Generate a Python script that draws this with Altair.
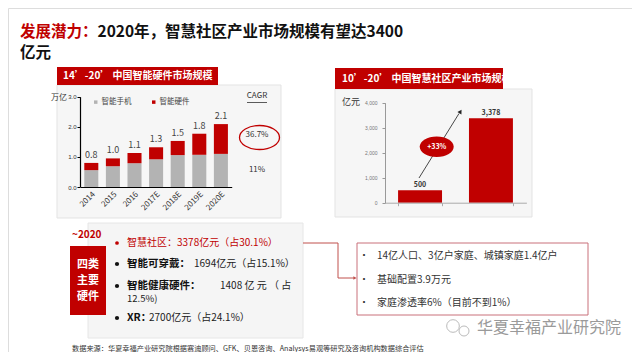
import altair as alt
import pandas as pd

FONT = "Noto Sans CJK SC"
RED = "#c00000"
GRAY = "#b3b3b3"
O = 8  # page margin offset (image coords -> chart coords)

# ---------------- data ----------------
years = ["2014", "2015", "2016", "2017E", "2018E", "2019E", "2020E"]
phone = [0.56, 0.69, 0.79, 0.92, 1.06, 1.07, 1.10]
hardware = [0.24, 0.26, 0.34, 0.40, 0.47, 0.70, 0.99]
total_labels = ["0.8", "1.0", "1.1", "1.3", "1.5", "1.8", "2.1"]
series_names = ["智能手机", "智能硬件"]

comm_years = ["2010", "2020"]
comm_values = [500, 3378]

left_y_ticks = [0, 1, 2, 3]
right_y_ticks = [0, 1000, 2000, 3000, 4000]

title_red = "发展潜力："
title_black = "2020年，智慧社区产业市场规模有望达3400"
title_line2 = "亿元"
left_header = "14’-20’ 中国智能硬件市场规模"
right_header = "10’-20’ 中国智慧社区产业市场规模"
side_label = ["四类", "主要", "硬件"]
bullets_left = [
    ("智慧社区：3378亿元（占30.1%）", ""),
    ("智能可穿戴：", "1694亿元（占15.1%）"),
    ("智能健康硬件：", "1408 亿 元 （ 占"),
    ("XR：", "2700亿元（占24.1%）"),
]
bullets_right = ["14亿人口、3亿户家庭、城镇家庭1.4亿户", "基础配置3.9万元", "家庭渗透率6%（目前不到1%）"]
source_text = "数据来源：华夏幸福产业研究院根据赛迪顾问、GFK、贝恩咨询、Analysys易观等研究及咨询机构数据综合评估"
watermark = "华夏幸福产业研究院"

# ---------------- tables ----------------
rows = []
for i, y in enumerate(years):
    rows.append({"year": y, "series": series_names[0], "value": phone[i], "ord": 0})
    rows.append({"year": y, "series": series_names[1], "value": hardware[i], "ord": 1})
df_left = pd.DataFrame(rows)
df_tot = pd.DataFrame({"year": years,
                       "total": [p + h for p, h in zip(phone, hardware)],
                       "label": total_labels})
df_right = pd.DataFrame({"year": comm_years, "value": comm_values})

D = alt.InlineData(values=[{"k": 0}])


def box(x1, y1, x2, y2, fill, stroke=None, sw=1.0):
    kw = dict(fill=fill)
    if stroke:
        kw.update(stroke=stroke, strokeWidth=sw)
    else:
        kw.update(strokeWidth=0)
    return alt.Chart(D).mark_rect(**kw).encode(
        x=alt.value(x1 - O), x2=alt.value(x2 - O),
        y=alt.value(y1 - O), y2=alt.value(y2 - O))


def label(s, x, y, size, color="#222", weight="normal", align="left", **extra):
    return alt.Chart(D).mark_text(
        text=s, fontSize=size, color=color, fontWeight=weight,
        align=align, baseline="middle", font=FONT, **extra
    ).encode(x=alt.value(x - O), y=alt.value(y - O))


def seg(x1, y1, x2, y2, color, w=1.0):
    return alt.Chart(D).mark_rule(color=color, strokeWidth=w).encode(
        x=alt.value(x1 - O), x2=alt.value(x2 - O),
        y=alt.value(y1 - O), y2=alt.value(y2 - O))


def sym(x, y, shape, size, color, filled=True, angle=0, sw=1.0):
    kw = dict(shape=shape, size=size, filled=filled, angle=angle, opacity=1)
    if filled:
        kw.update(fill=color, strokeWidth=0)
    else:
        kw.update(stroke=color, strokeWidth=sw, fillOpacity=0)
    return alt.Chart(D).mark_point(**kw).encode(x=alt.value(x - O), y=alt.value(y - O))


ELLIPSE = "M -1 0 A 1 0.6 0 1 0 1 0 A 1 0.6 0 1 0 -1 0 Z"

# ---------------- left chart ----------------
lx = alt.Scale(range=[80.5 - O, 231.7 - O], paddingInner=0.35, paddingOuter=0.175)
ly = alt.Scale(domain=[0, 3], range=[187 - O, 96.7 - O], nice=False, zero=True)

left_bars = alt.Chart(df_left).mark_bar().encode(
    x=alt.X("year:N", sort=years, scale=lx, title=None,
            axis=alt.Axis(orient="bottom", offset=-(344 - (187 - O)), labelAngle=-45,
                          labelFontSize=8, labelColor="#333", labelFont=FONT,
                          domainColor="#000", domainWidth=1.2, ticks=False,
                          labelPadding=3, zindex=2)),
    y=alt.Y("value:Q", stack="zero", scale=ly, title=None,
            axis=alt.Axis(orient="left", offset=-(80 - O), values=left_y_ticks,
                          labelFontSize=6, labelColor="#333", domainColor="#000",
                          domainWidth=1.2, tickColor="#000", tickSize=3, grid=False,
                          labelPadding=1, zindex=2)),
    color=alt.Color("series:N", sort=series_names,
                    scale=alt.Scale(domain=series_names, range=[GRAY, RED]),
                    legend=alt.Legend(orient="none", legendX=84, legendY=90,
                                      direction="horizontal", title=None,
                                      symbolType="square", symbolSize=12,
                                      labelFontSize=7.5, labelFont=FONT,
                                      labelColor="#444", columnPadding=18,
                                      labelOffset=2, padding=0)),
    order=alt.Order("ord:Q"),
)
left_labels = alt.Chart(df_tot).mark_text(
    fontSize=9, color="#444", baseline="bottom", dy=-3, font=FONT
).encode(
    x=alt.X("year:N", sort=years, scale=lx),
    y=alt.Y("total:Q", scale=ly),
    text="label:N",
)
left_chart = alt.layer(left_bars, left_labels)

# ---------------- right chart ----------------
rx = alt.Scale(range=[384.6 - O, 526.4 - O], paddingInner=0.38, paddingOuter=0.19)
ry = alt.Scale(domain=[0, 4000], range=[202.7 - O, 102.7 - O], nice=False)

right_bars = alt.Chart(df_right).mark_bar(color=RED).encode(
    x=alt.X("year:N", sort=comm_years, scale=rx, title=None,
            axis=alt.Axis(orient="bottom", offset=-(344 - (202.7 - O)), labels=False,
                          domainColor="#aaa", tickColor="#aaa", tickBand="extent",
                          tickSize=3, zindex=2)),
    y=alt.Y("value:Q", scale=ry, title=None,
            axis=alt.Axis(orient="left", offset=-(385 - O), values=right_y_ticks,
                          format=",.0f", labelFontSize=5, labelColor="#777",
                          domainColor="#999", tickColor="#999", tickSize=3,
                          grid=False, labelPadding=5, zindex=2)),
)
right_labels = alt.Chart(df_right).mark_text(
    fontSize=7, color="#333", fontWeight="bold", baseline="bottom", dy=-2, font=FONT
).encode(
    x=alt.X("year:N", sort=comm_years, scale=rx),
    y=alt.Y("value:Q", scale=ry),
    text=alt.Text("value:Q", format=","),
)
right_chart = alt.layer(right_bars, right_labels)

# ---------------- decorations ----------------
deco_back = [
    box(57, 85, 281, 218, "#f6f6f6", "#e3e3e3", 1),
    box(57, 67, 218, 85, RED),
    box(335, 89, 532, 217, "#f6f6f6", "#e3e3e3", 1),
    box(335, 68, 503, 89, RED),
    box(88, 223, 303, 338, "#f5f5f5", "#e6e6e6", 1),
    box(357, 243, 588, 315, "#ffffff", "#c9707a", 1),
]

deco_front = [
    # title
    label(title_red, 20, 32, 15.5, RED, "bold"),
    label(title_black, 97.5, 32, 15.5, "#111", "bold"),
    label(title_line2, 20, 53, 15.5, "#111", "bold"),
    # headers
    label(left_header, 63, 76, 10, "#fff", "bold"),
    label(right_header, 342, 78.5, 10, "#fff", "bold"),
    # left panel extras
    label("万亿", 51, 98, 8, "#333"),
    label("CAGR", 257, 96, 8, "#333", align="center"),
    seg(247, 102.5, 267, 102.5, "#333", 0.8),
    label("36.7%", 257, 135, 8, "#333", align="center"),
    label("11%", 257, 170, 8, "#333", align="center"),
    sym(259.5, 137.5, ELLIPSE, 40 * 40, RED, filled=False, sw=1.3),
    # right panel extras
    label("亿元", 342, 102, 9, "#333"),
    seg(419, 178, 459, 113.5, "#333", 0.9),
    sym(460.5, 111.5, "triangle-up", 22, "#222", angle=32),
    sym(436.7, 146.7, ELLIPSE, 34 * 34, RED),
    label("+33%", 436.7, 147, 7, "#fff", "bold", align="center"),
    # bottom-left block
    label("~2020", 72, 235, 10, RED, "bold"),
    box(70, 246, 106, 315, RED),
    label(side_label[0], 88, 265, 11, "#fff", "bold", align="center"),
    label(side_label[1], 88, 281, 11, "#fff", "bold", align="center"),
    label(side_label[2], 88, 297, 11, "#fff", "bold", align="center"),
    sym(117, 243, "circle", 14, RED),
    label(bullets_left[0][0], 127, 243, 10, RED),
    sym(117, 264, "circle", 18, "#111"),
    label(bullets_left[1][0], 127, 264, 10.5, "#111", "bold"),
    label(bullets_left[1][1], 194, 264, 10, "#222"),
    sym(117, 286, "circle", 18, "#111"),
    label(bullets_left[2][0], 127, 285.5, 10.5, "#111", "bold"),
    label(bullets_left[2][1], 220, 285.5, 10, "#222"),
    label("12.5%)", 127, 299, 9.5, "#222"),
    sym(117, 318, "circle", 18, "#111"),
    label(bullets_left[3][0], 127, 318, 10.5, "#111", "bold"),
    label(bullets_left[3][1], 149, 318, 10, "#222"),
    # connector
    seg(303, 243, 338, 243, "#c0504d", 1),
    seg(338, 243, 338, 278, "#c0504d", 1),
    seg(338, 278, 354, 278, "#c0504d", 1),
    sym(355, 278, "triangle-right", 14, "#c0504d"),
    # right box bullets
    label("•", 364, 256, 10, "#333", align="center"),
    label(bullets_right[0], 377, 256, 10, "#333"),
    label("•", 364, 279.5, 10, "#333", align="center"),
    label(bullets_right[1], 377, 279.5, 10, "#333"),
    label("•", 364, 302.5, 10, "#333", align="center"),
    label(bullets_right[2], 377, 302.5, 10, "#333"),
    # watermark
    sym(453, 326, "circle", 160, "#bbb", filled=False, sw=1),
    sym(464, 331, "circle", 100, "#bbb", filled=False, sw=1),
    label(watermark, 477, 328, 16, "#9a9a9a"),
    # source
    label(source_text, 72, 349, 7.2, "#333"),
]

chart = alt.layer(
    *deco_back, left_chart, right_chart, *deco_front
).resolve_scale(
    x="independent", y="independent", color="independent"
).resolve_axis(
    x="independent", y="independent"
).properties(
    width=624, height=344, padding=0, autosize=alt.AutoSizeParams(type="none")
).configure_view(strokeWidth=0).configure(background="#ffffff")

chart.save("out.html", embed_options={"renderer": "svg", "actions": False})
